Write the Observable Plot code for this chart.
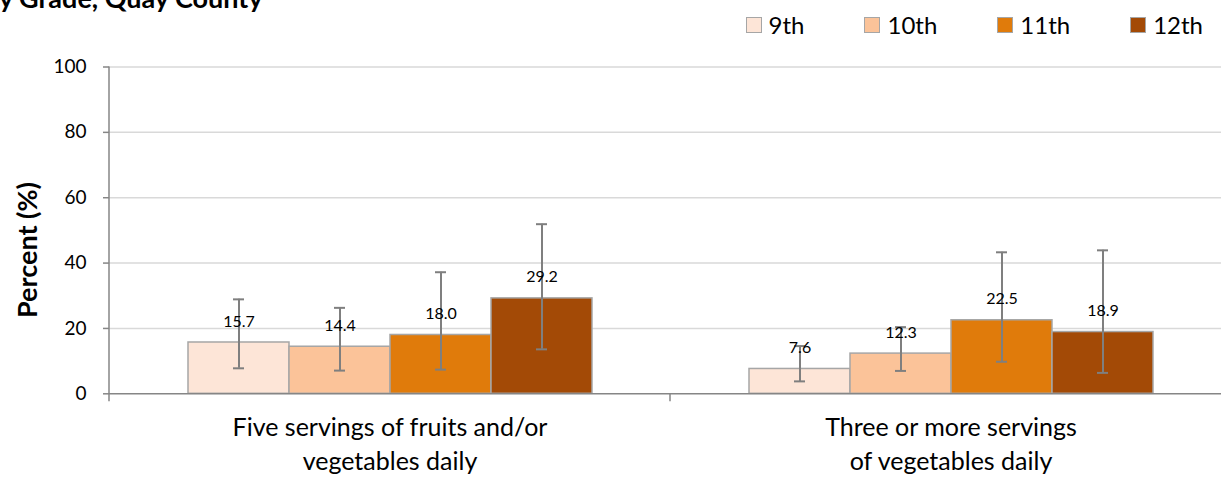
<!DOCTYPE html>
<html>
<head>
<meta charset="utf-8">
<script src="https://cdn.jsdelivr.net/npm/d3@7"></script>
<script src="https://cdn.jsdelivr.net/npm/@observablehq/plot@0.6"></script>
<style>
  html, body { margin: 0; padding: 0; background: #fff; overflow: hidden; }
  #wrap { position: relative; width: 1221px; height: 478px; overflow: hidden; font-family: Lato, sans-serif; }
  #title { position: absolute; left: -16px; top: -19px; font-weight: bold; font-size: 27px; white-space: nowrap; color: #000; }
  #legend { position: absolute; right: 18px; top: 10px; display: flex; align-items: center; font-size: 24px; color: #000; }
  #legend .item { display: flex; align-items: center; margin-left: 60px; }
  #legend .item:first-child { margin-left: 0; }
  #legend .sw { width: 14px; height: 14px; border: 1.5px solid #A6A6A6; margin-right: 7px; }
  #ylabel { position: absolute; left: 26px; top: 250px; transform: translate(-50%, -50%) rotate(-90deg); font-weight: bold; font-size: 27px; white-space: nowrap; color: #000; }
  #chart { position: absolute; left: 0; top: 0; }
  #chart svg { max-width: none !important; }
</style>
</head>
<body>
<div id="wrap">
  <div id="title">by Grade, Quay County</div>
  <div id="legend"></div>
  <div id="ylabel">Percent (%)</div>
  <div id="chart"></div>
</div>
<script>
const categories = ["Five servings of fruits and/or vegetables daily", "Three or more servings of vegetables daily"];
const categoryLabels = ["Five servings of fruits and/or\nvegetables daily", "Three or more servings\nof vegetables daily"];
const grades = ["9th", "10th", "11th", "12th"];
const fruitVegValues = [15.7, 14.4, 18.0, 29.2];
const fruitVegLow = [7.8, 7.1, 7.4, 13.6];
const fruitVegHigh = [28.9, 26.3, 37.2, 51.9];
const vegValues = [7.6, 12.3, 22.5, 18.9];
const vegLow = [3.8, 7.0, 9.8, 6.4];
const vegHigh = [14.6, 20.4, 43.3, 43.9];
const yTicks = [0, 20, 40, 60, 80, 100];
const gradeColors = ["#FDE5D7", "#FBC399", "#E07B0B", "#A34A06"];

const series = [
  {values: fruitVegValues, low: fruitVegLow, high: fruitVegHigh},
  {values: vegValues, low: vegLow, high: vegHigh}
];
const data = [];
categories.forEach((c, i) => grades.forEach((g, j) => data.push({
  category: c, grade: g, value: series[i].values[j], low: series[i].low[j], high: series[i].high[j]
})));
const labelOf = new Map(categories.map((c, i) => [c, categoryLabels[i]]));

// legend
const legend = document.getElementById("legend");
grades.forEach((g, i) => {
  const it = document.createElement("div"); it.className = "item";
  const sw = document.createElement("div"); sw.className = "sw"; sw.style.background = gradeColors[i];
  const tx = document.createElement("span"); tx.textContent = g;
  it.appendChild(sw); it.appendChild(tx); legend.appendChild(it);
});

const chart = Plot.plot({
  width: 1231,
  height: 478,
  marginLeft: 109,
  marginRight: 0,
  marginTop: 66.5,
  marginBottom: 84.7,
  style: {fontFamily: "Lato, sans-serif", background: "transparent", overflow: "visible", maxWidth: "none"},
  fx: {domain: categories, padding: 0},
  x: {domain: grades, paddingInner: 0, paddingOuter: 0.755, axis: null},
  y: {domain: [0, 100]},
  color: {domain: grades, range: gradeColors},
  marks: [
    Plot.gridY(yTicks.slice(1), {stroke: "#D9D9D9", strokeOpacity: 1, strokeWidth: 1.5}),
    Plot.axisY(yTicks, {anchor: "left", tickSize: 6, tickPadding: 17, fontSize: 19, fill: "#000", stroke: "#868686", strokeWidth: 1.5, label: null}),
    Plot.axisFx({anchor: "bottom", tickSize: 0, tickPadding: 19, fontSize: 25, lineHeight: 1.33, fill: "#000", label: null, tickFormat: d => labelOf.get(d)}),
    Plot.barY(data, {fx: "category", x: "grade", y: "value", fill: "grade", stroke: "#A6A6A6", strokeWidth: 1.5, inset: 0}),
    Plot.ruleY([0], {stroke: "#868686", strokeWidth: 1.5}),
    Plot.ruleX(data, {fx: "category", x: "grade", y1: "low", y2: "high", stroke: "#7F7F7F", strokeWidth: 2}),
    Plot.tickY(data, {fx: "category", x: "grade", y: "low", stroke: "#7F7F7F", strokeWidth: 2, inset: 45}),
    Plot.tickY(data, {fx: "category", x: "grade", y: "high", stroke: "#7F7F7F", strokeWidth: 2, inset: 45}),
    Plot.text(data, {fx: "category", x: "grade", y: "value", text: d => d.value.toFixed(1), dy: -21, fontSize: 16, fill: "#000"})
  ]
});
document.getElementById("chart").appendChild(chart);

// axis lines & category boundary ticks, placed with the plot's own scales
const fxs = chart.scale("fx"), ys = chart.scale("y");
const svg = d3.select(chart.tagName.toLowerCase() === "svg" ? chart : chart.querySelector("svg"));
const y0 = ys.apply(0), y100 = ys.apply(100);
const left = fxs.apply(categories[0]);
svg.append("line").attr("x1", left).attr("x2", left).attr("y1", y100).attr("y2", y0 + 8)
  .attr("stroke", "#868686").attr("stroke-width", 1.5);
const bounds = categories.slice(1).map(c => fxs.apply(c));
bounds.push(fxs.apply(categories[categories.length - 1]) + fxs.bandwidth);
bounds.forEach(bx => svg.append("line").attr("x1", bx).attr("x2", bx).attr("y1", y0).attr("y2", y0 + 8)
  .attr("stroke", "#868686").attr("stroke-width", 1.5));
</script>
</body>
</html>
